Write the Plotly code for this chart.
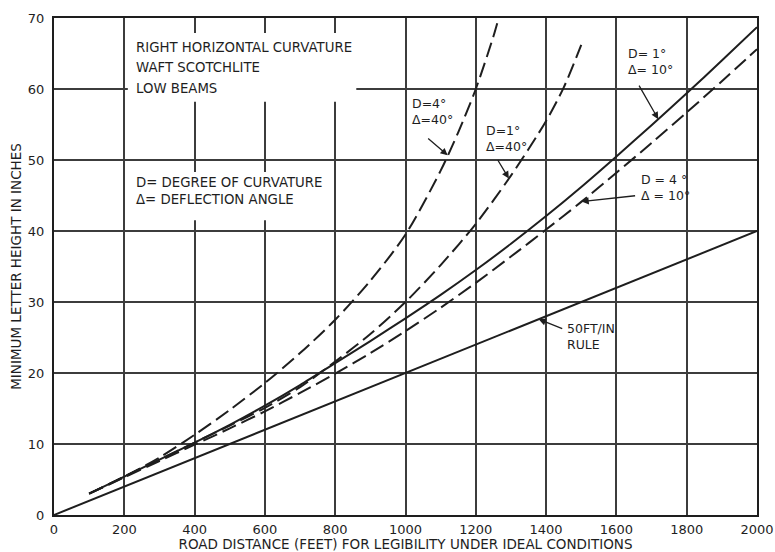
import numpy as np
import plotly.graph_objects as go

# Road distance (ft) and minimum letter height (in) for each legibility curve
dist_1d10 = [100, 200, 300, 400, 500, 600, 700, 800, 900, 1000, 1100, 1200, 1300, 1400,
             1500, 1600, 1700, 1800, 1900, 2000]
height_1d10 = [3.0, 5.4, 7.8, 10.2, 12.7, 15.4, 18.3, 21.4, 24.5, 27.7, 31.0, 34.5, 38.2, 42.1,
               46.2, 50.5, 54.9, 59.4, 64.0, 68.7]

dist_4d10 = [100, 200, 300, 400, 500, 600, 700, 800, 900, 1000, 1100, 1200, 1300, 1400,
             1500, 1600, 1700, 1800, 1900, 2000]
height_4d10 = [3.0, 5.3, 7.6, 9.9, 12.2, 14.6, 17.2, 19.9, 22.8, 25.9, 29.2, 32.7, 36.4, 40.2,
               44.1, 48.2, 52.4, 56.7, 61.1, 65.6]

dist_1d40 = [100, 200, 300, 400, 500, 600, 700, 800, 900, 1000, 1100, 1200, 1300, 1400, 1450, 1500]
height_1d40 = [3.0, 5.4, 7.8, 10.2, 12.6, 15.1, 18.0, 21.6, 25.5, 30.0, 35.2, 41.0, 47.8, 55.5,
               60.2, 66.2]

dist_4d40 = [100, 200, 300, 400, 500, 600, 700, 800, 900, 1000, 1100, 1150, 1200, 1250, 1265]
height_4d40 = [3.0, 5.4, 8.1, 11.3, 14.8, 18.6, 22.8, 27.5, 33.0, 39.5, 48.5, 53.9, 60.0, 67.4, 70.0]

dist_rule = [0, 2000]
height_rule = [0, 40]

x_ticks = [0, 200, 400, 600, 800, 1000, 1200, 1400, 1600, 1800, 2000]
y_ticks = [0, 10, 20, 30, 40, 50, 60, 70]

INK = "#1e1e1e"
FONT = "DejaVu Sans"
DASH = "15px,6px"

fig = go.Figure()

series = [
    (dist_rule, height_rule, "solid"),
    (dist_1d10, height_1d10, "solid"),
    (dist_4d10, height_4d10, DASH),
    (dist_1d40, height_1d40, DASH),
    (dist_4d40, height_4d40, DASH),
]
for xs, ys, dash in series:
    fig.add_trace(go.Scatter(
        x=xs, y=ys, mode="lines",
        line=dict(color=INK, width=2, dash=dash, shape="spline", smoothing=0.8),
        showlegend=False, hoverinfo="skip",
    ))

# White panels behind the explanatory notes (they hide the grid there)
for x0, x1, y0, y1 in [(210, 860, 58.2, 67.9), (210, 760, 41.5, 48.3)]:
    fig.add_shape(type="rect", xref="x", yref="y", x0=x0, x1=x1, y0=y0, y1=y1,
                  fillcolor="white", line=dict(width=0), layer="between")

notes = [
    ("RIGHT HORIZONTAL CURVATURE", 65.8),
    ("WAFT SCOTCHLITE", 63.0),
    ("LOW BEAMS", 60.1),
    ("D= DEGREE OF CURVATURE", 46.8),
    ("\u0394= DEFLECTION ANGLE", 44.5),
]
for txt, yv in notes:
    fig.add_annotation(x=227, y=yv, xref="x", yref="y", text=txt, showarrow=False,
                       xanchor="left", yanchor="middle",
                       font=dict(family=FONT, size=13.3, color=INK))

# Curve labels with leader arrows
labels = [
    ("D=4\u00b0<br>\u0394=40\u00b0", 1013, 56.9, dist_4d40, height_4d40, 1120, -21, -18),
    ("D=1\u00b0<br>\u0394=40\u00b0", 1223, 53.0, dist_1d40, height_1d40, 1294, -12, -20),
    ("D= 1\u00b0<br>\u0394= 10\u00b0", 1628, 63.9, dist_1d10, height_1d10, 1719, -20, -35),
    ("D = 4 \u00b0<br>\u0394 = 10\u00b0", 1665, 46.1, dist_4d10, height_4d10, 1501, 55, -6),
    ("50FT/IN<br>RULE", 1455, 25.1, dist_rule, height_rule, 1379, 25, 10),
]
for txt, tx, ty, xs, ys, xtip, ax, ay in labels:
    fig.add_annotation(x=tx, y=ty, xref="x", yref="y", text=txt, showarrow=False,
                       xanchor="left", yanchor="middle", align="left",
                       font=dict(family=FONT, size=12.5, color=INK))
    fig.add_annotation(x=xtip, y=float(np.interp(xtip, xs, ys)), xref="x", yref="y",
                       text="", showarrow=True, ax=ax, ay=ay,
                       arrowhead=2, arrowsize=1.1, arrowwidth=1.3, arrowcolor=INK)

axis_common = dict(
    showgrid=True, gridcolor="#3c3c3c", gridwidth=1.5,
    showline=True, mirror=True, linecolor=INK, linewidth=2,
    zeroline=False, ticks="", ticklabeloverflow="allow", automargin=False,
    tickfont=dict(family=FONT, size=13, color=INK),
)

fig.update_xaxes(range=[0, 2000], tickvals=x_ticks, ticklabelstandoff=1,
                 title=dict(text="ROAD DISTANCE (FEET) FOR LEGIBILITY UNDER IDEAL CONDITIONS",
                            font=dict(family=FONT, size=13.5, color=INK), standoff=6),
                 **axis_common)
fig.update_yaxes(range=[0, 70], tickvals=y_ticks, ticklabelstandoff=5,
                 title=dict(text="MINIMUM LETTER HEIGHT IN INCHES",
                            font=dict(family=FONT, size=13.5, color=INK), standoff=3),
                 **axis_common)

fig.update_layout(
    width=775, height=552,
    margin=dict(l=54, r=18, t=18, b=37),
    plot_bgcolor="white", paper_bgcolor="white",
)

fig.write_html("out.html")
